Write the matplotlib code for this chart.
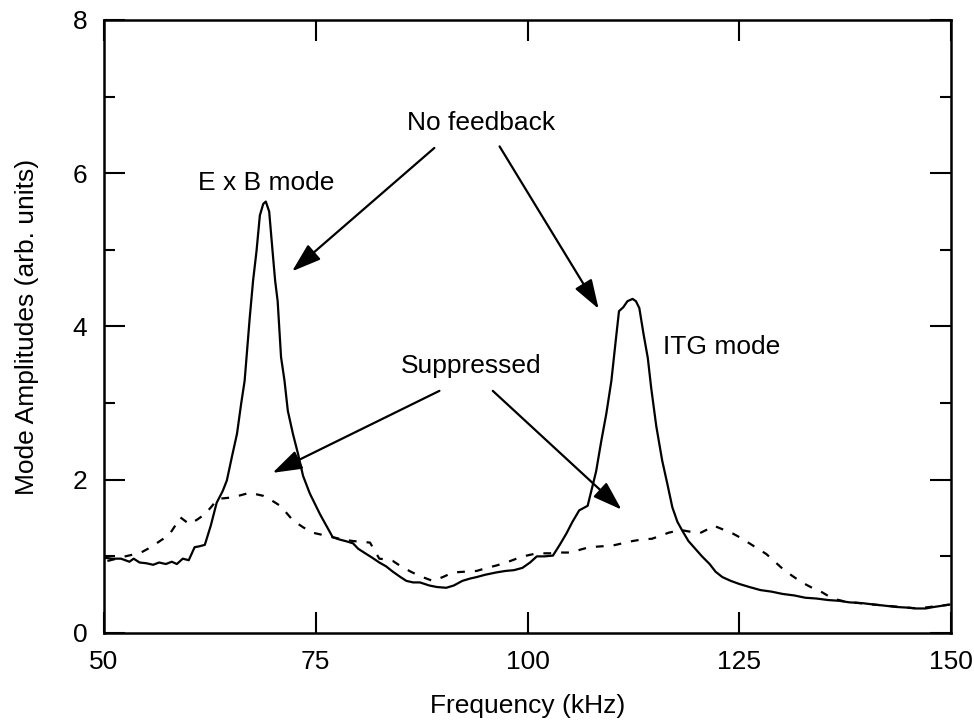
import matplotlib
matplotlib.use("Agg")
import matplotlib.pyplot as plt
from matplotlib.ticker import MultipleLocator

plt.rcParams['font.family'] = ['Liberation Sans', 'DejaVu Sans']

# ---- data ----
freq_nofb = [50.2, 51.0, 52.0, 53.0, 53.5, 54.2, 55.0, 55.8, 56.5, 57.3, 58.0, 58.6, 59.3, 60.0,
             60.7, 61.2, 61.9, 62.6, 63.3, 64.0, 64.5, 65.1, 65.7, 66.2, 66.6, 67.2, 67.6, 68.0,
             68.4, 68.8, 69.1, 69.5, 69.9, 70.2, 70.5, 70.9, 71.3, 71.7, 72.3, 72.9, 73.5, 74.3,
             75.5, 76.5, 77.0, 77.8, 78.5, 79.4, 80.0, 80.7, 81.7, 82.5, 83.3, 84.1, 85.0, 85.7,
             86.5, 87.3, 88.4, 89.3, 90.4, 91.3, 92.3, 93.2, 94.0, 95.0, 96.3, 97.4, 98.4, 99.4,
             100.3, 101.1, 102.0, 103.0, 103.8, 104.6, 105.3, 106.1, 107.1, 108.1, 108.7, 109.3,
             109.9, 110.4, 110.8, 111.3, 111.8, 112.4, 112.8, 113.2, 113.7, 114.2, 114.6, 115.2,
             115.9, 116.5, 117.1, 117.7, 118.3, 119.0, 119.8, 120.6, 121.5, 122.2, 123.0, 124.0,
             125.0, 126.2, 127.5, 128.8, 130.1, 131.5, 132.8, 134.1, 135.5, 136.8, 138.0, 139.5,
             141.0, 141.9, 143.5, 145.0, 145.9, 147.0, 148.0, 149.8]
amp_nofb = [0.98, 0.97, 0.97, 0.93, 0.97, 0.92, 0.91, 0.89, 0.92, 0.90, 0.93, 0.90, 0.97, 0.95,
            1.12, 1.13, 1.15, 1.40, 1.70, 1.85, 1.99, 2.30, 2.60, 3.00, 3.29, 4.11, 4.60, 4.98,
            5.45, 5.60, 5.63, 5.50, 4.98, 4.60, 4.33, 3.60, 3.30, 2.90, 2.60, 2.34, 2.05, 1.82,
            1.55, 1.35, 1.25, 1.22, 1.20, 1.17, 1.10, 1.05, 0.98, 0.92, 0.87, 0.80, 0.73, 0.68,
            0.66, 0.66, 0.62, 0.60, 0.59, 0.62, 0.68, 0.71, 0.73, 0.76, 0.79, 0.81, 0.82, 0.85,
            0.92, 1.00, 1.00, 1.01, 1.15, 1.30, 1.45, 1.60, 1.66, 2.11, 2.50, 2.86,
            3.29, 3.80, 4.20, 4.25, 4.33, 4.36, 4.33, 4.24, 3.90, 3.59, 3.20, 2.70,
            2.25, 1.95, 1.64, 1.45, 1.33, 1.20, 1.10, 1.00, 0.90, 0.80, 0.73, 0.68,
            0.64, 0.60, 0.56, 0.54, 0.51, 0.49, 0.46, 0.45, 0.43, 0.42, 0.40, 0.39,
            0.37, 0.36, 0.34, 0.33, 0.32, 0.32, 0.34, 0.37]

freq_supp = [50.4, 51.5, 52.5, 53.3, 54.2, 55.2, 56.2, 57.0, 57.8, 58.4, 59.0, 59.6, 60.1, 61.0,
             61.9, 62.7, 63.4, 64.3, 65.2, 66.2, 67.2, 68.0, 68.8, 69.8, 70.8, 71.6, 72.3, 73.5,
             74.6, 75.8, 77.0, 78.2, 79.4, 80.4, 81.4, 82.5, 83.3, 84.1, 85.2, 86.4, 87.6, 88.8,
             90.0, 91.2, 92.6, 94.0, 95.2, 96.3, 97.5, 98.7, 99.9, 101.1, 102.6, 103.9, 105.2,
             106.3, 107.3, 108.6, 110.0, 111.2, 112.4, 113.5, 114.7, 115.7, 116.7, 117.5, 118.3,
             119.3, 120.3, 121.2, 122.0, 123.1, 124.2, 125.2, 126.2, 127.2, 128.2, 129.2, 130.1,
             131.2, 132.4, 133.6, 134.8, 136.0, 137.5, 140.0, 143.0, 146.0, 149.8]
amp_supp = [0.94, 0.97, 1.00, 1.02, 1.04, 1.10, 1.17, 1.23, 1.30, 1.40, 1.51, 1.46, 1.42, 1.48,
            1.55, 1.65, 1.75, 1.76, 1.77, 1.80, 1.83, 1.81, 1.79, 1.73, 1.66, 1.56, 1.47, 1.38,
            1.31, 1.28, 1.25, 1.22, 1.20, 1.19, 1.18, 0.97, 0.96, 0.94, 0.86, 0.79, 0.73, 0.68,
            0.73, 0.79, 0.80, 0.81, 0.85, 0.88, 0.92, 0.97, 1.01, 1.04, 1.04, 1.05, 1.05,
            1.09, 1.12, 1.13, 1.14, 1.17, 1.20, 1.22, 1.23, 1.27, 1.31, 1.33, 1.34,
            1.32, 1.30, 1.35, 1.40, 1.35, 1.30, 1.24, 1.17, 1.10, 1.03, 0.93, 0.84,
            0.75, 0.66, 0.59, 0.53, 0.45, 0.41, 0.38, 0.35, 0.32, 0.37]

x_ticks = [50, 75, 100, 125, 150]
y_ticks = [0, 2, 4, 6, 8]

# ---- figure ----
fig = plt.figure(figsize=(9.74, 7.26), dpi=100)
ax = fig.add_axes([0.1068, 0.1281, 0.8696, 0.8444])

ax.plot(freq_nofb, amp_nofb, color='black', lw=1.6, solid_joinstyle='round')
ax.plot(freq_supp, amp_supp, color='black', lw=1.6, linestyle=(0, (3.5, 4.5)))

ax.set_xlim(50, 150)
ax.set_ylim(0, 8)
ax.set_xticks(x_ticks)
ax.set_yticks(y_ticks)
ax.yaxis.set_minor_locator(MultipleLocator(1))
ax.tick_params(which='both', direction='in', top=True, right=True, width=1.5,
               labelsize=19, colors='black')
ax.tick_params(which='major', length=15)
ax.tick_params(which='minor', length=8)
ax.tick_params(axis='x', pad=12)
ax.tick_params(axis='y', pad=12)
for s in ax.spines.values():
    s.set_linewidth(1.8)

ax.set_xlabel('Frequency (kHz)', fontsize=19, labelpad=15)
ax.set_ylabel('Mode Amplitudes (arb. units)', fontsize=19, labelpad=24)

tsize = 19
ax.text(69.1, 5.87, 'E x B mode', ha='center', va='center', fontsize=tsize)
ax.text(94.5, 6.65, 'No feedback', ha='center', va='center', fontsize=tsize)
ax.text(93.4, 3.49, 'Suppressed', ha='center', va='center', fontsize=tsize)
ax.text(122.9, 3.73, 'ITG mode', ha='center', va='center', fontsize=tsize)

aprops = dict(arrowstyle='-|>,head_length=0.9,head_width=0.3', color='black',
              lw=1.6, shrinkA=0, shrinkB=0, mutation_scale=20)
ax.annotate('', xy=(72.2, 4.72), xytext=(89.0, 6.33), arrowprops=aprops)
ax.annotate('', xy=(108.4, 4.23), xytext=(96.7, 6.35), arrowprops=aprops)
ax.annotate('', xy=(69.9, 2.09), xytext=(89.6, 3.16), arrowprops=aprops)
ax.annotate('', xy=(111.1, 1.61), xytext=(95.9, 3.16), arrowprops=aprops)

fig.savefig('out.png', dpi=100)
